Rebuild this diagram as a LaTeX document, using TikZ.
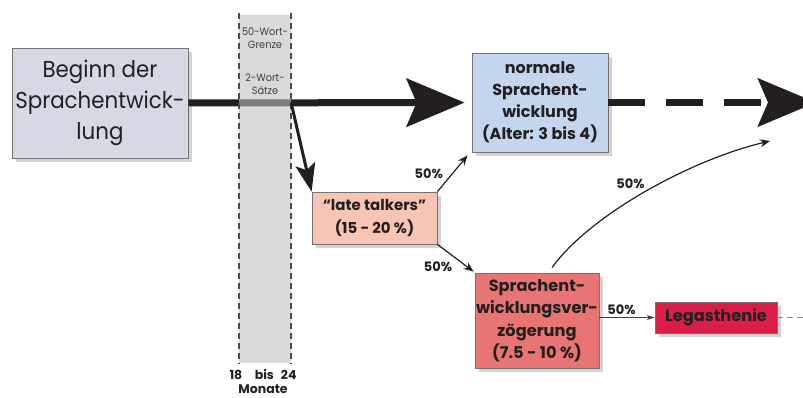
\documentclass[tikz,border=0pt]{standalone}
\usepackage{fontspec}
\setmainfont{Poppins}[FakeStretch=0.93, BoldFeatures={FakeStretch=1}]
\usepackage{tikz}
\usetikzlibrary{shadows,arrows.meta,positioning,calc}
\definecolor{grau}{RGB}{213,217,228}
\definecolor{hellblau}{RGB}{196,213,238}
\definecolor{lachs}{RGB}{248,196,180}
\definecolor{hellrot}{RGB}{232,116,116}
\definecolor{karmin}{RGB}{218,30,72}
\definecolor{bandgrau}{RGB}{190,190,190}
\definecolor{schrift}{RGB}{35,31,32}
\tikzstyle{kasten}=[draw=black!55, line width=0.8pt, text=schrift, align=center,
  inner sep=0pt, drop shadow={shadow xshift=4pt,shadow yshift=-4pt,opacity=0.35}]
\tikzstyle{prozent}=[font=\fontsize{13}{15}\selectfont\bfseries, text=schrift, inner sep=1pt]
\tikzstyle{bandtext}=[font=\fontsize{10.5}{13}\selectfont, text=black!75, align=center, inner sep=0pt]
\tikzstyle{duenn}=[draw, line width=1.2pt, color=schrift, -{Stealth[length=10pt,width=8pt]}]
\tikzstyle{dick}=[draw, line width=7pt, color=schrift, -{Stealth[length=58pt,width=48pt,inset=10pt]}]
\tikzstyle{grenze}=[draw, line width=1.5pt, color=black!70, dash pattern=on 6pt off 4pt]

\begin{document}
\begin{tikzpicture}[x=1pt,y=-1pt]
  \clip (0,0) rectangle (803,398);

  % boxes
  \node (beginn) [kasten, fill=grau, minimum width=176pt, minimum height=110pt,
    font=\fontsize{23}{31}\selectfont] at (100,103) {Beginn der\\Sprachentwick-\\lung};
  \node (normal) [kasten, fill=hellblau, minimum width=136pt, minimum height=99pt,
    font=\fontsize{16}{22}\selectfont\bfseries] at (540,102.5) {normale\\Sprachent-\\wicklung\\(Alter: 3 bis 4)};
  \node (late) [kasten, fill=lachs, minimum width=125pt, minimum height=52pt,
    font=\fontsize{15}{23}\selectfont\bfseries] at (374.5,218) {“late talkers”\\(15 - 20 \%)};
  \node (sprach) [kasten, fill=hellrot, minimum width=124pt, minimum height=95pt,
    font=\fontsize{16.2}{22.5}\selectfont\bfseries] at (537,320.5) {Sprachent-\\wicklungsver-\\zögerung\\(7.5 - 10 \%)};
  \node (legas) [kasten, fill=karmin, minimum width=122pt, minimum height=31pt,
    font=\fontsize{16.2}{22}\selectfont\bfseries] at (716,317.5) {Legasthenie};

  % main line, then the age band over it
  \draw [dick, shorten >=7pt] (beginn) -- (normal);
  \node (band) [fill=bandgrau, fill opacity=0.59, minimum width=52pt,
    minimum height=348pt, inner sep=0pt] at (265,189) {};
  \draw [grenze] ([yshift=2pt]band.north west) -- (band.south west);
  \draw [grenze] ([yshift=2pt]band.north east) -- (band.south east);
  \node (wortgrenze) [bandtext] at (265,38.5) {50-Wort-\\Grenze};
  \node (saetze) [bandtext] at (265,84.5) {2-Wort-\\Sätze};
  \node (monate) [prozent, align=center, font=\fontsize{12.5}{14}\selectfont\bfseries]
    at (263,382) {18\quad bis\;\;24\\Monate};

  \coordinate (abzweig) at (band.east |- beginn.east);
  \coordinate (ziel) at (816,102.5);
  \coordinate (kurvenende) at (770,141);
  \coordinate (rand) at (810,317.5);

  % connectors
  \draw [dick, dash pattern=on 37pt off 21pt] (normal) -- (ziel);
  \draw [line width=3pt, color=schrift, -{Stealth[length=28pt,width=20pt,inset=6pt]}]
    (abzweig) -- (late.north west);
  \draw [duenn] (late.north east) -- node [prozent, left=8pt] {50\%}
    ([shift={(-4,3)}]normal.south west);
  \draw [duenn] (late.south east) -- node [prozent, pos=0.45, below left=4pt and 0pt] {50\%}
    ([shift={(-1,-1)}]sprach.north west);
  \draw [duenn] ([shift={(15,-5)}]sprach.north) .. controls (590,215) and (690,160) ..
    node [prozent, pos=0.45, above=8pt, xshift=-3pt] {50\%} (kurvenende);
  \draw [line width=0.8pt, color=black!75, -{Stealth[length=8pt,width=5pt]}]
    (sprach.east |- legas.west) -- node [prozent, pos=0.4, above=1pt] {50\%} (legas.west);
  \draw [line width=0.8pt, color=black!45, dash pattern=on 6pt off 4pt] (legas.east) -- (rand);
\end{tikzpicture}
\end{document}
